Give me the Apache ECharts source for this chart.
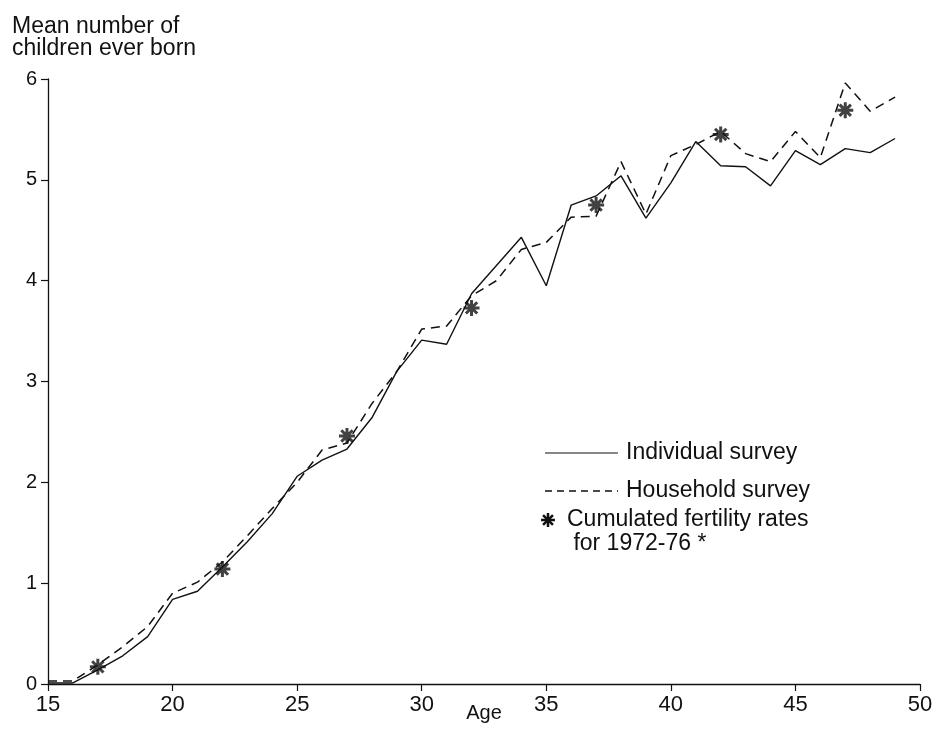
<!DOCTYPE html>
<html>
<head>
<meta charset="utf-8">
<script src="https://cdn.jsdelivr.net/npm/echarts@6/dist/echarts.min.js"></script>
<style>
  html, body { margin: 0; padding: 0; background: #fff; }
  #chart { width: 936px; height: 737px; }
</style>
</head>
<body>
<div id="chart"></div>
<script>
// Single years of age 15-49
const ages = [15,16,17,18,19,20,21,22,23,24,25,26,27,28,29,30,31,32,33,34,35,36,37,38,39,40,41,42,43,44,45,46,47,48,49];

// Mean children ever born, individual survey
const individualSurvey = [0.01,0.01,0.14,0.28,0.47,0.84,0.92,1.16,1.41,1.69,2.06,2.22,2.33,2.64,3.10,3.41,3.37,3.87,4.15,4.43,3.95,4.75,4.84,5.04,4.62,4.97,5.38,5.14,5.13,4.94,5.29,5.15,5.31,5.27,5.41];

// Mean children ever born, household survey
const householdSurvey = [0.03,0.03,0.19,0.37,0.57,0.90,1.01,1.21,1.47,1.74,2.00,2.32,2.39,2.78,3.10,3.52,3.55,3.85,4.00,4.31,4.38,4.63,4.64,5.18,4.66,5.24,5.35,5.48,5.26,5.18,5.48,5.22,5.96,5.68,5.82];

// Cumulated fertility rates for 1972-76, plotted at mid-group ages
const cfrAges = [17,22,27,32,37,42,47];
const cfrValues = [0.17,1.14,2.46,3.73,4.75,5.45,5.69];

// Axis ticks
const xTicks = [15,20,25,30,35,40,45,50];
const yTicks = [0,1,2,3,4,5,6];

const ink = '#111';
const fontFamily = '"Liberation Sans", Arial, Helvetica, sans-serif';

// Eight-spoke asterisk marker
const asteriskPath = 'M2 41L98 41L98 59L2 59Z M41 2L59 2L59 98L41 98Z M22.42 9.7L90.3 77.58L77.58 90.3L9.7 22.42Z M77.58 9.7L90.3 22.42L22.42 90.3L9.7 77.58Z';

const zip = (xs, ys) => xs.map((x, i) => [x, ys[i]]);

// Legend asterisk built from four rotated bars
function legendAsterisk(cx, cy, size) {
  const bars = [0, 45, 90, 135].map(deg => ({
    type: 'rect',
    x: cx, y: cy,
    rotation: deg * Math.PI / 180,
    shape: { x: -size / 2, y: -size * 0.09, width: size, height: size * 0.18 },
    style: { fill: '#111' }
  }));
  return { type: 'group', children: bars };
}

const chart = echarts.init(document.getElementById('chart'), null, { renderer: 'canvas' });

chart.setOption({
  animation: false,
  backgroundColor: '#fff',
  grid: { left: 48, right: 16, top: 79, bottom: 53, containLabel: false, outerBoundsMode: 'none' },
  xAxis: {
    type: 'value',
    min: xTicks[0],
    max: xTicks[xTicks.length - 1],
    interval: 5,
    name: 'Age',
    nameLocation: 'middle',
    nameGap: 19,
    nameMoveOverlap: false,
    nameTextStyle: { color: ink, fontSize: 20, fontFamily, verticalAlign: 'top' },
    axisLine: { show: true, lineStyle: { color: ink, width: 1.3 } },
    axisTick: { show: true, inside: false, length: 7, lineStyle: { color: ink, width: 1.2 } },
    axisLabel: { color: ink, fontSize: 22, fontFamily, margin: 10 },
    splitLine: { show: false }
  },
  yAxis: {
    type: 'value',
    min: yTicks[0],
    max: yTicks[yTicks.length - 1],
    interval: 1,
    axisLine: { show: true, lineStyle: { color: ink, width: 1.3 } },
    axisTick: { show: true, inside: false, length: 7, lineStyle: { color: ink, width: 1.2 } },
    axisLabel: { color: ink, fontSize: 20, fontFamily, margin: 11 },
    splitLine: { show: false }
  },
  series: [
    {
      name: 'Individual survey',
      type: 'line',
      data: zip(ages, individualSurvey),
      symbol: 'none',
      lineStyle: { color: ink, width: 1.4, type: 'solid' },
      z: 3
    },
    {
      name: 'Household survey',
      type: 'line',
      data: zip(ages, householdSurvey),
      symbol: 'none',
      lineStyle: { color: ink, width: 1.5, type: [9, 6] },
      z: 3
    },
    {
      name: 'Cumulated fertility rates for 1972-76',
      type: 'scatter',
      data: zip(cfrAges, cfrValues),
      symbol: 'path://' + asteriskPath,
      symbolSize: 16,
      itemStyle: { color: '#111' },
      z: 4
    }
  ],
  graphic: [
    // Y axis title
    {
      type: 'text', left: 12, top: 15,
      style: { text: 'Mean number of\nchildren ever born', fill: ink, font: '23px ' + fontFamily, lineHeight: 22 }
    },
    // Legend
    { type: 'line', shape: { x1: 545, y1: 453, x2: 618, y2: 453 }, style: { stroke: ink, lineWidth: 1.2 } },
    { type: 'text', left: 626, top: 441, style: { text: 'Individual survey', fill: ink, font: '23px ' + fontFamily } },
    { type: 'line', shape: { x1: 545, y1: 491, x2: 618, y2: 491 }, style: { stroke: ink, lineWidth: 1.4, lineDash: [7, 5] } },
    { type: 'text', left: 626, top: 479, style: { text: 'Household survey', fill: ink, font: '23px ' + fontFamily } },
    legendAsterisk(548, 520, 14),
    { type: 'text', left: 567, top: 508, style: { text: 'Cumulated fertility rates\n for 1972-76 *', fill: ink, font: '23px ' + fontFamily, lineHeight: 24 } }
  ]
});
</script>
</body>
</html>
